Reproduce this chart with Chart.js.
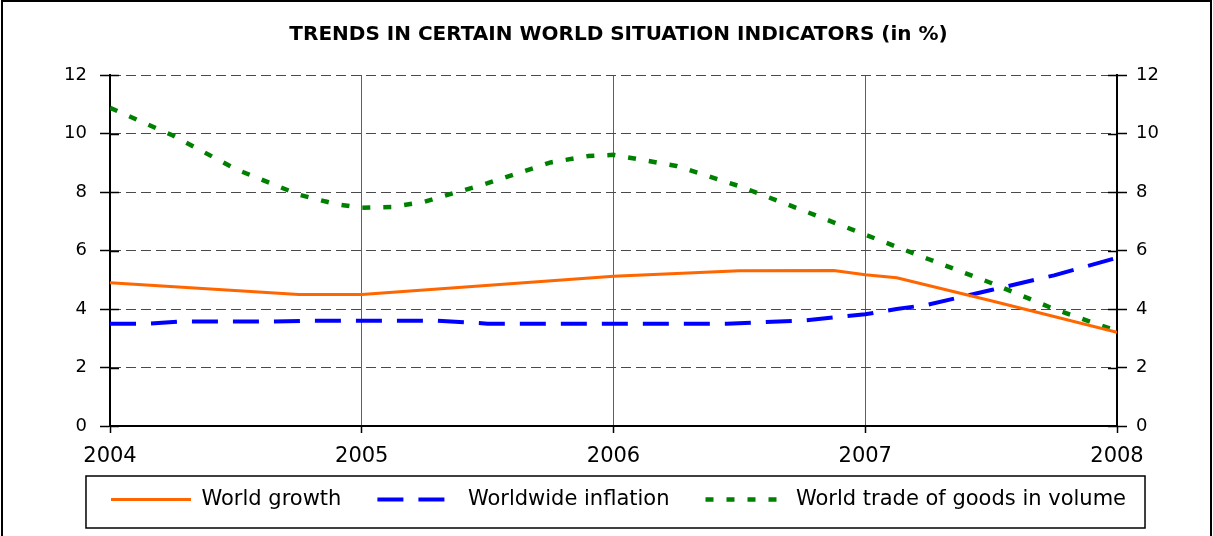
<!DOCTYPE html>
<html><head><meta charset="utf-8">
<script src="https://cdn.jsdelivr.net/npm/chart.js@4.4.1/dist/chart.umd.min.js"></script>
<style>html,body{margin:0;padding:0;background:#fff}#wrap{position:relative;width:1213px;height:536px}</style>
</head><body><div id="wrap"><canvas id="c"></canvas></div>
<script>
const chartTitle = 'TRENDS IN CERTAIN WORLD SITUATION INDICATORS (in %)';
const seriesNames = ['World growth', 'Worldwide inflation', 'World trade of goods in volume'];
const xTickValues = [2004, 2005, 2006, 2007, 2008];
const xTickLabels = ['2004', '2005', '2006', '2007', '2008'];
const yTickValues = [0, 2, 4, 6, 8, 10, 12];
const yTickLabels = ['0', '2', '4', '6', '8', '10', '12'];

const growthYears  = [2004, 2004.75, 2005, 2006, 2006.5, 2006.875, 2007, 2007.125, 2007.5, 2008];
const growthValues = [4.9, 4.5, 4.5, 5.12, 5.31, 5.32, 5.17, 5.07, 4.28, 3.2];

const inflationYears  = [2004, 2004.15, 2004.27, 2004.65, 2004.8, 2005.3, 2005.5, 2006.45, 2006.75, 2007, 2007.125, 2007.25, 2007.5, 2007.75, 2008];
const inflationValues = [3.5, 3.5, 3.57, 3.57, 3.6, 3.6, 3.5, 3.5, 3.6, 3.82, 4.0, 4.15, 4.65, 5.15, 5.75];

const tradeYears  = [2004, 2004.25, 2004.5, 2004.75, 2004.9, 2005, 2005.12, 2005.25, 2005.5, 2005.75, 2005.9, 2006, 2006.25, 2006.5, 2006.75, 2007, 2007.25, 2007.5, 2007.75, 2008];
const tradeValues = [10.88, 9.93, 8.78, 7.91, 7.58, 7.46, 7.49, 7.67, 8.3, 9.01, 9.23, 9.27, 8.89, 8.2, 7.38, 6.54, 5.71, 4.89, 4.0, 3.25];

const FONT = 'DejaVu Sans';
function pts(xs, ys) { return xs.map((x, i) => ({x: x, y: ys[i]})); }

const decor = {
  id: 'decor',
  beforeDraw(chart) {
    // let the x tick labels overflow the (shortened) x-axis box
    const xs = chart.scales.x;
    if (xs) xs._computeLabelArea = function () { return undefined; };
  },
  afterDraw(chart) {
    const ctx = chart.ctx;
    ctx.save();
    ctx.setLineDash([]);
    ctx.strokeStyle = '#000';
    // outer frame
    ctx.lineWidth = 2;
    ctx.beginPath();
    ctx.moveTo(2, chart.height); ctx.lineTo(2, 1); ctx.lineTo(chart.width - 2, 1); ctx.lineTo(chart.width - 2, chart.height);
    ctx.stroke();
    // legend frame
    const lg = chart.legend, hb = lg.legendHitBoxes;
    const last = hb[hb.length - 1];
    const l = hb[0].left - 25, r = last.left + last.width + 19;
    ctx.lineWidth = 1.5;
    ctx.strokeRect(l, lg.top + 23, r - l, 52);
    // inner half of cross ticks on both value axes
    const ys = chart.scales.y, a = chart.chartArea;
    ctx.lineWidth = 1.5;
    ys.ticks.forEach(t => {
      const p = Math.round(ys.getPixelForValue(t.value)) + 0.5;
      ctx.beginPath();
      ctx.moveTo(a.left, p); ctx.lineTo(a.left + 9, p);
      ctx.moveTo(a.right, p); ctx.lineTo(a.right - 9, p);
      ctx.stroke();
    });
    ctx.restore();
  }
};

new Chart(document.getElementById('c'), {
  type: 'line',
  data: {
    datasets: [
      { label: seriesNames[0], data: pts(growthYears, growthValues), borderColor: '#FF6600', backgroundColor: '#FF6600', borderWidth: 3, pointRadius: 0, tension: 0, fill: false },
      { label: seriesNames[1], data: pts(inflationYears, inflationValues), borderColor: '#0000FF', backgroundColor: '#0000FF', borderWidth: 4, borderDash: [26, 15], pointRadius: 0, tension: 0, fill: false },
      { label: seriesNames[2], data: pts(tradeYears, tradeValues), borderColor: '#008000', backgroundColor: '#008000', borderWidth: 4.5, borderDash: [8, 13], pointRadius: 0, tension: 0, fill: false }
    ]
  },
  options: {
    responsive: true,
    maintainAspectRatio: false,
    animation: false,
    devicePixelRatio: 1,
    layout: { padding: { left: 24, right: 0, top: 0, bottom: 16 } },
    plugins: {
      title: {
        display: true, text: chartTitle, color: '#000',
        font: { family: FONT, size: 20, weight: 'bold' },
        padding: { top: 23, bottom: 28 }
      },
      legend: {
        position: 'bottom',
        labels: {
          color: '#000', font: { family: FONT, size: 21 },
          usePointStyle: true, pointStyle: 'line', pointStyleWidth: 80, padding: 36,
          generateLabels: chart => chart.data.datasets.map((ds, i) => ({
            text: ds.label, fillStyle: ds.borderColor, strokeStyle: ds.borderColor,
            lineWidth: ds.borderWidth, lineDash: ds.borderDash || [], lineCap: 'butt',
            pointStyle: 'line', datasetIndex: i, hidden: false, fontColor: '#000'
          }))
        }
      },
      tooltip: { enabled: false }
    },
    scales: {
      x: {
        type: 'linear', min: 2004, max: 2008,
        afterBuildTicks: s => { s.ticks = xTickValues.map(v => ({value: v})); },
        afterFit: s => { s.height = 27; },
        ticks: { color: '#000', font: { family: FONT, size: 21 }, padding: 11, maxRotation: 0,
          callback: v => xTickLabels[xTickValues.indexOf(v)] },
        grid: { color: '#606060', lineWidth: 1, tickLength: 7, tickColor: '#000', tickWidth: 1.5 },
        border: { color: '#000', width: 2 }
      },
      y: {
        position: 'left', min: 0, max: 12,
        afterBuildTicks: s => { s.ticks = yTickValues.map(v => ({value: v})); },
        afterFit: s => { s.width = 86; },
        ticks: { color: '#000', font: { family: FONT, size: 18 }, padding: 13,
          callback: v => yTickLabels[yTickValues.indexOf(v)] },
        grid: { color: '#4a4a4a', lineWidth: 1, tickLength: 10, tickColor: '#000', tickWidth: 1.5, tickBorderDash: [] },
        border: { color: '#000', width: 2, dash: [10, 5] }
      },
      y2: {
        position: 'right', min: 0, max: 12,
        afterBuildTicks: s => { s.ticks = yTickValues.map(v => ({value: v})); },
        afterFit: s => { s.width = 96; },
        ticks: { color: '#000', font: { family: FONT, size: 18 }, padding: 9,
          callback: v => yTickLabels[yTickValues.indexOf(v)] },
        grid: { drawOnChartArea: false, tickLength: 10, tickColor: '#000', tickWidth: 1.5 },
        border: { color: '#000', width: 2 }
      }
    }
  },
  plugins: [decor]
});
</script>
</body></html>
